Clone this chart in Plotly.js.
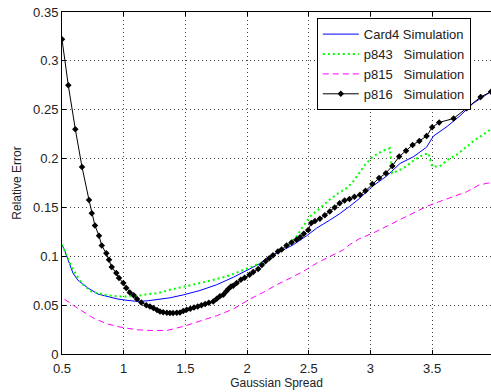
<!DOCTYPE html>
<html>
<head>
<meta charset="utf-8">
<script src="https://cdn.plot.ly/plotly-3.0.1.min.js"></script>
<style>html,body{margin:0;padding:0;background:#fff;}#chart{width:491px;height:392px;}</style>
</head>
<body>
<div id="chart"></div>
<script>
// Card4 Simulation (blue solid)
const card4X = [0.5,0.516,0.549,0.589,0.63,0.711,0.792,0.873,0.954,1.035,1.116,1.197,1.278,1.375,1.483,1.618,1.754,1.888,2.02,2.1,2.16,2.27,2.375,2.483,2.564,2.67,2.75,2.83,2.91,3.02,3.13,3.24,3.35,3.455,3.51,3.62,3.725,3.833,3.977];
const card4Y = [0.111,0.108,0.0964,0.0828,0.0753,0.0675,0.0613,0.0589,0.0562,0.0548,0.0538,0.0545,0.0558,0.0575,0.0605,0.065,0.0709,0.0785,0.087,0.0923,0.098,0.105,0.1118,0.121,0.1288,0.137,0.1435,0.151,0.159,0.172,0.182,0.195,0.202,0.2117,0.223,0.2327,0.2437,0.2566,0.2685];

// p843 Simulation (green dotted)
const p843X = [0.5,0.52,0.575,0.656,0.737,0.846,0.954,1.035,1.116,1.197,1.278,1.375,1.483,1.618,1.754,1.835,1.94,2.05,2.13,2.2,2.27,2.33,2.4,2.45,2.52,2.59,2.67,2.74,2.81,2.86,2.91,2.955,3.02,3.10,3.158,3.175,3.24,3.29,3.36,3.43,3.47,3.50,3.56,3.63,3.70,3.765,3.847,3.95,3.977];
const p843Y = [0.112,0.106,0.0896,0.0726,0.064,0.0606,0.0589,0.0589,0.0596,0.0613,0.0624,0.0657,0.0685,0.0726,0.0767,0.0794,0.0845,0.0896,0.094,0.100,0.105,0.111,0.120,0.130,0.142,0.149,0.158,0.1646,0.170,0.1765,0.185,0.1936,0.202,0.208,0.2106,0.185,0.1885,0.192,0.199,0.204,0.2055,0.192,0.192,0.199,0.204,0.2106,0.219,0.2276,0.230];

// p815 Simulation (magenta dashed)
const p815X = [0.52,0.589,0.646,0.754,0.862,0.97,1.105,1.213,1.35,1.483,1.618,1.754,1.888,2.02,2.13,2.24,2.35,2.455,2.564,2.67,2.78,2.83,2.91,3.02,3.13,3.24,3.35,3.455,3.56,3.67,3.78,3.88,3.977];
const p815Y = [0.056,0.050,0.0453,0.0368,0.031,0.0276,0.0248,0.0241,0.0241,0.0282,0.0333,0.0392,0.046,0.056,0.063,0.0709,0.0777,0.0845,0.093,0.0998,0.1066,0.1118,0.118,0.1237,0.1305,0.1373,0.144,0.151,0.156,0.161,0.166,0.173,0.1755];

// p816 Simulation (black with markers)
const p816X = [0.5,0.551,0.608,0.662,0.719,0.741,0.767,0.800,0.822,0.859,0.881,0.903,0.940,0.962,0.997,1.021,1.049,1.081,1.108,1.143,1.183,1.213,1.24,1.27,1.294,1.32,1.35,1.375,1.40,1.43,1.456,1.483,1.51,1.54,1.57,1.60,1.63,1.66,1.69,1.726,1.754,1.78,1.807,1.83,1.848,1.87,1.888,1.916,1.95,1.98,2.02,2.05,2.09,2.12,2.15,2.18,2.21,2.25,2.28,2.32,2.36,2.4,2.43,2.46,2.496,2.52,2.55,2.59,2.63,2.67,2.71,2.75,2.79,2.83,2.87,2.915,2.96,3.015,3.07,3.125,3.177,3.233,3.288,3.342,3.396,3.455,3.50,3.557,3.674,3.78,3.893,3.977];
const p816Y = [0.322,0.275,0.230,0.1915,0.1575,0.144,0.1315,0.121,0.111,0.103,0.0964,0.089,0.0828,0.0777,0.0726,0.0675,0.063,0.060,0.0562,0.0528,0.050,0.0487,0.047,0.045,0.0436,0.0428,0.0422,0.042,0.042,0.0422,0.0425,0.044,0.0453,0.0462,0.0475,0.0487,0.050,0.0512,0.0525,0.0538,0.0565,0.059,0.0606,0.064,0.0664,0.069,0.0698,0.0726,0.076,0.078,0.081,0.084,0.087,0.091,0.095,0.098,0.101,0.105,0.107,0.111,0.114,0.117,0.1196,0.123,0.127,0.134,0.136,0.1384,0.142,0.1458,0.150,0.1544,0.157,0.1585,0.161,0.163,0.167,0.174,0.180,0.185,0.1925,0.202,0.208,0.214,0.218,0.223,0.232,0.237,0.241,0.2515,0.263,0.2685];

const xTicks = [0.5,1,1.5,2,2.5,3,3.5];
const yTicks = [0,0.05,0.1,0.15,0.2,0.25,0.3,0.35];

const traces = [
  {x: card4X, y: card4Y, name: 'Card4 Simulation', mode: 'lines', line: {color: '#0000ff', width: 1}},
  {x: p843X, y: p843Y, name: 'p843\u00a0\u00a0\u00a0Simulation', mode: 'lines', line: {color: '#00ff00', width: 2, dash: '2px,3px'}},
  {x: p815X, y: p815Y, name: 'p815\u00a0\u00a0\u00a0Simulation', mode: 'lines', line: {color: '#ff00ff', width: 1, dash: '6px,4px'}},
  {x: p816X, y: p816Y, name: 'p816\u00a0\u00a0\u00a0Simulation', mode: 'lines+markers', line: {color: '#000000', width: 1}, marker: {symbol: 'diamond', size: 5, color: '#000000'}}
];

const FAM = 'Liberation Sans, Arial, sans-serif';
const layout = {
  width: 491, height: 392,
  margin: {l: 62, r: 0, t: 12, b: 38},
  paper_bgcolor: '#fff', plot_bgcolor: '#fff',
  font: {family: FAM, size: 12, color: '#222'},
  showlegend: true,
  legend: {x: 0.594, y: 0.982, xanchor: 'left', yanchor: 'top', bgcolor: '#fff', bordercolor: '#000', borderwidth: 1, itemwidth: 36, font: {family: FAM, size: 13, color: '#222'}, tracegroupgap: 0},
  xaxis: {
    range: [0.5, 3.977], tickvals: xTicks, ticktext: xTicks.map(String),
    showline: true, linecolor: '#000', linewidth: 1, mirror: 'ticks',
    ticks: 'inside', ticklen: 4, tickcolor: '#000', ticklabelstandoff: 2,
    showgrid: true, gridcolor: '#444', gridwidth: 1, griddash: '1px,3px',
    zeroline: false, tickfont: {family: FAM, size: 13, color: '#222'},
    title: {text: 'Gaussian Spread', font: {size: 12, family: FAM, color: '#222'}, standoff: 3}
  },
  yaxis: {
    range: [0, 0.35], tickvals: yTicks, ticktext: yTicks.map(String),
    showline: true, linecolor: '#000', linewidth: 1, mirror: false,
    ticks: 'inside', ticklen: 4, tickcolor: '#000',
    showgrid: true, gridcolor: '#444', gridwidth: 1, griddash: '1px,3px',
    zeroline: false, tickfont: {family: FAM, size: 13, color: '#222'},
    title: {text: 'Relative Error', font: {size: 12, family: FAM, color: '#222'}, standoff: 8}
  }
};

Plotly.newPlot('chart', traces, layout, {displayModeBar: false, staticPlot: true});
</script>
</body>
</html>
